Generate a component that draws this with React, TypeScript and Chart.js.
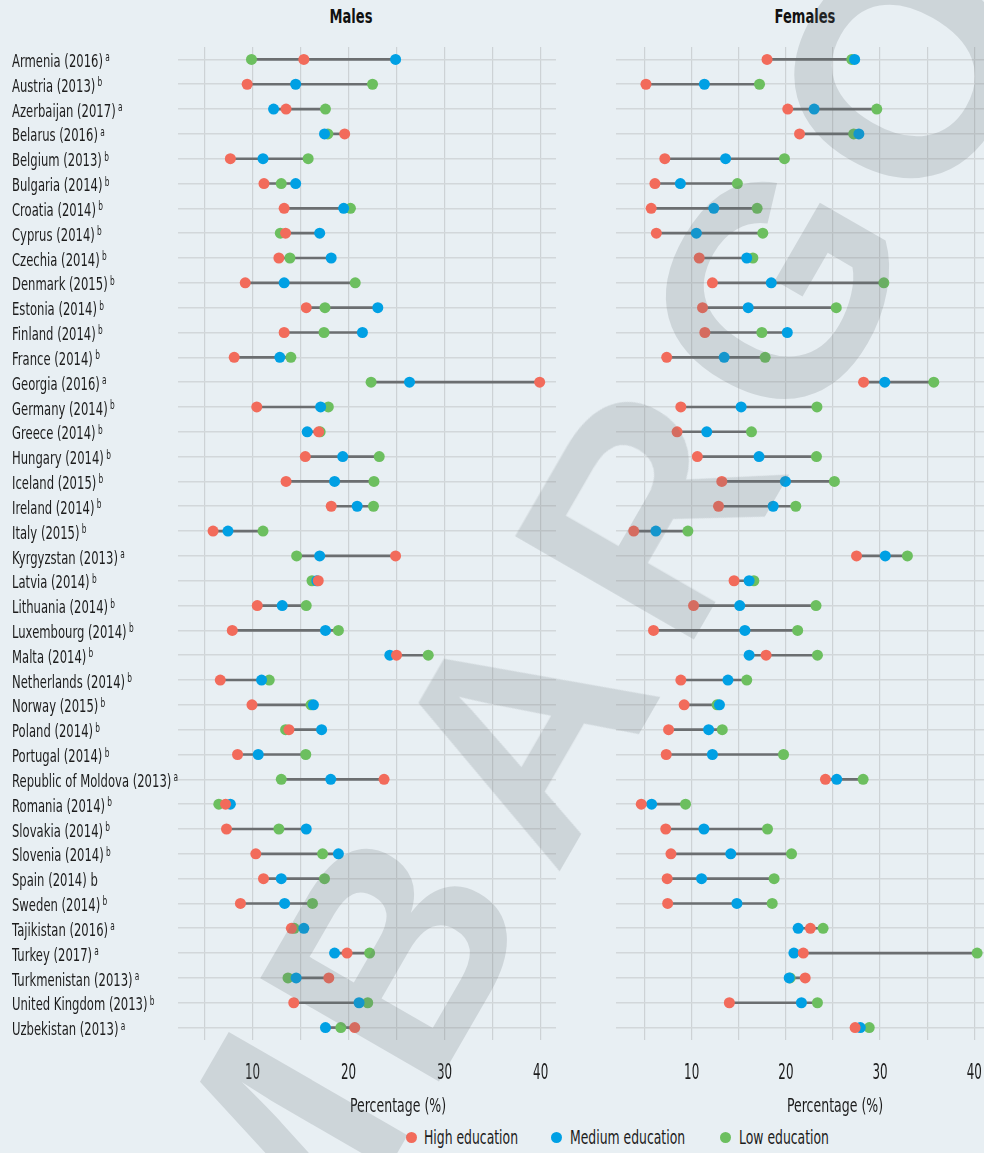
import React, { useEffect, useRef } from 'react';
import { Chart, registerables } from 'chart.js';

Chart.register(...registerables);

const countries = [
  'Armenia (2016)', 'Austria (2013)', 'Azerbaijan (2017)', 'Belarus (2016)', 'Belgium (2013)',
  'Bulgaria (2014)', 'Croatia (2014)', 'Cyprus (2014)', 'Czechia (2014)', 'Denmark (2015)',
  'Estonia (2014)', 'Finland (2014)', 'France (2014)', 'Georgia (2016)', 'Germany (2014)',
  'Greece (2014)', 'Hungary (2014)', 'Iceland (2015)', 'Ireland (2014)', 'Italy (2015)',
  'Kyrgyzstan (2013)', 'Latvia (2014)', 'Lithuania (2014)', 'Luxembourg (2014)', 'Malta (2014)',
  'Netherlands (2014)', 'Norway (2015)', 'Poland (2014)', 'Portugal (2014)', 'Republic of Moldova (2013)',
  'Romania (2014)', 'Slovakia (2014)', 'Slovenia (2014)', 'Spain (2014) b', 'Sweden (2014)',
  'Tajikistan (2016)', 'Turkey (2017)', 'Turkmenistan (2013)', 'United Kingdom (2013)', 'Uzbekistan (2013)',
];
const notes = [
  'a', 'b', 'a', 'a', 'b', 'b', 'b', 'b', 'b', 'b',
  'b', 'b', 'b', 'a', 'b', 'b', 'b', 'b', 'b', 'b',
  'a', 'b', 'b', 'b', 'b', 'b', 'b', 'b', 'b', 'a',
  'b', 'b', 'b', '', 'b', 'a', 'a', 'a', 'b', 'a',
];

const maleHigh = [15.35, 9.45, 13.5, 19.6, 7.7, 11.2, 13.3, 13.45, 12.75, 9.25, 15.6, 13.3, 8.1, 39.9, 10.45, 16.9, 15.5, 13.5, 18.2, 5.9, 24.9, 16.85, 10.5, 7.9, 25.0, 6.65, 9.95, 13.8, 8.45, 23.7, 7.2, 7.3, 10.35, 11.15, 8.75, 14.05, 19.85, 17.95, 14.3, 20.65];
const maleMedium = [24.9, 14.5, 12.2, 17.5, 11.1, 14.5, 19.5, 17.0, 18.2, 13.3, 23.05, 21.45, 12.85, 26.35, 17.1, 15.7, 19.4, 18.55, 20.9, 7.45, 17.0, 16.7, 13.1, 17.6, 24.3, 10.95, 16.35, 17.2, 10.6, 18.15, 7.7, 15.6, 18.95, 13.0, 13.35, 15.35, 18.55, 14.55, 21.1, 17.6];
const maleLow = [9.9, 22.5, 17.6, 17.85, 15.8, 13.0, 20.2, 12.9, 13.9, 20.7, 17.55, 17.45, 14.0, 22.35, 17.9, 17.05, 23.2, 22.65, 22.6, 11.1, 14.6, 16.2, 15.6, 18.95, 28.3, 11.75, 16.1, 13.45, 15.55, 13.0, 6.5, 12.75, 17.3, 17.5, 16.25, 14.35, 22.2, 13.7, 22.0, 19.2];

const femaleHigh = [18.0, 5.15, 20.2, 21.45, 7.15, 6.1, 5.7, 6.25, 10.8, 12.2, 11.15, 11.4, 7.35, 28.25, 8.85, 8.45, 10.6, 13.2, 12.85, 3.85, 27.5, 14.5, 10.2, 5.95, 17.9, 8.85, 9.2, 7.55, 7.3, 24.2, 4.65, 7.25, 7.8, 7.4, 7.45, 22.6, 21.85, 22.05, 14.0, 27.35];
const femaleMedium = [27.3, 11.35, 23.0, 27.75, 13.6, 8.8, 12.35, 10.5, 15.85, 18.45, 16.0, 20.15, 13.45, 30.5, 15.25, 11.6, 17.15, 19.95, 18.65, 6.2, 30.55, 16.1, 15.1, 15.65, 16.1, 13.85, 12.95, 11.8, 12.2, 25.4, 5.75, 11.3, 14.15, 11.05, 14.8, 21.3, 20.85, 20.35, 21.65, 27.9];
const femaleLow = [27.0, 17.2, 29.65, 27.2, 19.85, 14.85, 16.95, 17.55, 16.5, 30.4, 25.35, 17.45, 17.8, 35.7, 23.3, 16.35, 23.25, 25.15, 21.05, 9.6, 32.9, 16.6, 23.2, 21.25, 23.35, 15.85, 12.7, 13.25, 19.75, 28.2, 9.35, 18.05, 20.6, 18.75, 18.55, 23.95, 40.3, 20.45, 23.35, 28.85];

const xTickValues = [5, 10, 15, 20, 25, 30, 35, 40];
const xLabelValues = [10, 20, 30, 40];
const seriesNames = ['High education', 'Medium education', 'Low education'];
const panelTitles = ['Males', 'Females'];
const axisTitle = 'Percentage (%)';
const watermark = 'EMBARGO';

const RED = '#f26b5b';
const BLUE = '#00a0e4';
const GREEN = '#6cbf5f';
const RANGE = '#6b6e70';
const BG = '#e8eff3';
const TEXT = '#1c1c1c';
const FONT = "'DejaVu Sans', sans-serif";
const SQUEEZE = 0.645;

type Side = 'left' | 'right';

const textPlugin = (isLeft: boolean) => ({
  id: 'condensedText' + (isLeft ? 'L' : 'R'),
  afterDraw(chart: any) {
    const ctx = chart.ctx as CanvasRenderingContext2D;
    const ys = chart.scales.y;
    const xs = chart.scales.x;
    ctx.save();
    ctx.fillStyle = TEXT;
    ctx.textAlign = 'left';
    ctx.textBaseline = 'alphabetic';
    if (isLeft) {
      countries.forEach((name, i) => {
        const py = ys.getPixelForValue(i);
        ctx.save();
        ctx.translate(12, py + 7.6);
        ctx.scale(SQUEEZE, 1);
        ctx.font = `18px ${FONT}`;
        ctx.fillText(name, 0, 0);
        const w = ctx.measureText(name).width;
        if (notes[i]) {
          ctx.font = `11.5px ${FONT}`;
          ctx.fillText(notes[i], w + 3.5, -5.6);
        }
        ctx.restore();
      });
    }
    ctx.textAlign = 'center';
    xLabelValues.forEach((v) => {
      const px = xs.getPixelForValue(v);
      ctx.save();
      ctx.translate(px, 1078.5);
      ctx.scale(0.58, 1);
      ctx.font = `20.5px ${FONT}`;
      ctx.fillText(String(v), 0, 0);
      ctx.restore();
    });
    ctx.restore();
  },
});

function buildConfig(high: number[], medium: number[], low: number[], side: Side): any {
  const range = high.map((h, i) => [Math.min(h, medium[i], low[i]), Math.max(h, medium[i], low[i])]);
  const pointSet = (label: string, data: number[], color: string) => ({
    type: 'line',
    label,
    data,
    indexAxis: 'y',
    showLine: false,
    pointRadius: 5.5,
    pointHoverRadius: 5.5,
    pointBorderWidth: 0,
    pointBackgroundColor: color,
    borderColor: color,
    backgroundColor: color,
  });
  const isLeft = side === 'left';
  return {
    type: 'bar',
    data: {
      labels: countries,
      datasets: [
        pointSet(seriesNames[0], high, RED),
        pointSet(seriesNames[1], medium, BLUE),
        pointSet(seriesNames[2], low, GREEN),
        {
          type: 'bar',
          label: 'range',
          data: range,
          indexAxis: 'y',
          backgroundColor: RANGE,
          barThickness: 2,
          borderWidth: 0,
        },
      ],
    },
    plugins: [textPlugin(isLeft)],
    options: {
      indexAxis: 'y',
      animation: false,
      responsive: false,
      maintainAspectRatio: false,
      events: [],
      layout: { autoPadding: false, padding: { left: isLeft ? 12 : 56.3, right: isLeft ? 4 : 0, top: 47, bottom: 0 } },
      plugins: { legend: { display: false }, tooltip: { enabled: false }, title: { display: false } },
      scales: {
        x: {
          type: 'linear',
          min: isLeft ? 2.25 : 2.0,
          max: isLeft ? 41.6 : 41.03,
          afterBuildTicks: (s: any) => {
            s.ticks = xTickValues.map((v) => ({ value: v }));
          },
          afterFit: (s: any) => {
            s.height = 60;
          },
          grid: { color: '#cdd2d5', lineWidth: 1.2, drawTicks: false },
          border: { display: false },
          ticks: { display: false },
        },
        y: {
          type: 'category',
          afterFit: (s: any) => {
            s.width = isLeft ? 166 : 0;
          },
          grid: { offset: false, color: '#d2d7da', lineWidth: 1.6, drawTicks: false },
          border: { display: false },
          ticks: { display: false, autoSkip: false },
        },
      },
    },
  };
}

function Panel({ side, left, width, high, medium, low }: { side: Side; left: number; width: number; high: number[]; medium: number[]; low: number[] }) {
  const ref = useRef<HTMLCanvasElement | null>(null);
  useEffect(() => {
    if (!ref.current) return;
    const chart = new Chart(ref.current, buildConfig(high, medium, low, side));
    return () => chart.destroy();
  }, []);
  return (
    <canvas
      ref={ref}
      width={width}
      height={1100}
      style={{ position: 'absolute', left, top: 0, width, height: 1100 }}
    />
  );
}

const centered = (scale: number): React.CSSProperties => ({
  position: 'absolute',
  fontFamily: FONT,
  color: TEXT,
  lineHeight: 1,
  whiteSpace: 'nowrap',
  transform: `translate(-50%, -50%) scaleX(${scale})`,
});

export default function App() {
  const legendItems = [
    { label: seriesNames[0], color: RED, dot: 411, text: 424 },
    { label: seriesNames[1], color: BLUE, dot: 556, text: 570 },
    { label: seriesNames[2], color: GREEN, dot: 725, text: 739 },
  ];
  const adv = 255;
  const dir = { x: 0.5, y: -0.866 };
  const anchor = { x: 520, y: 732 };
  return (
    <div
      style={{
        position: 'fixed',
        left: 0,
        top: 0,
        width: 984,
        height: 1153,
        background: BG,
        overflow: 'hidden',
      }}
    >
      <div style={{ ...centered(0.67), left: 351, top: 17, fontSize: 19.5, fontWeight: 'bold', color: '#111' }}>{panelTitles[0]}</div>
      <div style={{ ...centered(0.67), left: 805, top: 17, fontSize: 19.5, fontWeight: 'bold', color: '#111' }}>{panelTitles[1]}</div>
      <Panel side="left" left={0} width={560} high={maleHigh} medium={maleMedium} low={maleLow} />
      <Panel side="right" left={560} width={424} high={femaleHigh} medium={femaleMedium} low={femaleLow} />
      <div style={{ ...centered(0.66), left: 397.5, top: 1105, fontSize: 19 }}>{axisTitle}</div>
      <div style={{ ...centered(0.66), left: 835, top: 1105, fontSize: 19 }}>{axisTitle}</div>
      {legendItems.map((it) => (
        <React.Fragment key={it.label}>
          <div
            style={{
              position: 'absolute',
              left: it.dot - 5.5,
              top: 1137 - 5.5,
              width: 11,
              height: 11,
              borderRadius: '50%',
              background: it.color,
            }}
          />
          <div
            style={{
              position: 'absolute',
              left: it.text,
              top: 1137,
              fontFamily: FONT,
              fontSize: 19,
              lineHeight: 1,
              color: TEXT,
              whiteSpace: 'nowrap',
              transformOrigin: 'left center',
              transform: 'translateY(-50%) scaleX(0.653)',
            }}
          >
            {it.label}
          </div>
        </React.Fragment>
      ))}
      {watermark.split('').map((ch, i) => {
        const k = i - 3;
        return (
          <div
            key={i}
            style={{
              position: 'absolute',
              left: anchor.x + k * adv * dir.x,
              top: anchor.y + k * adv * dir.y,
              transform: 'translate(-50%, -50%) rotate(-60deg)',
              fontFamily: "'Liberation Sans', 'DejaVu Sans', sans-serif",
              fontWeight: 'bold',
              fontSize: 300,
              lineHeight: 1,
              color: 'rgba(100, 110, 115, 0.2)',
              whiteSpace: 'nowrap',
              pointerEvents: 'none',
            }}
          >
            {ch}
          </div>
        );
      })}
    </div>
  );
}
